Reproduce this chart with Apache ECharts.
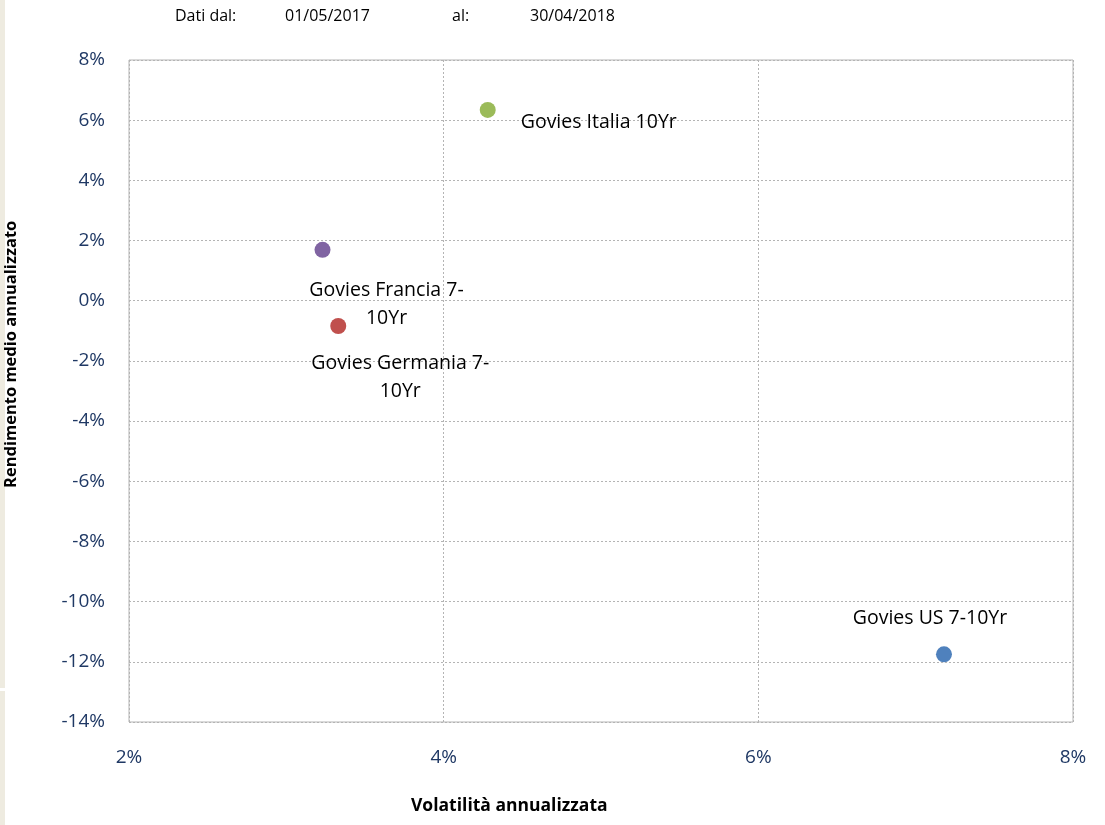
<!DOCTYPE html>
<html>
<head>
<meta charset="utf-8">
<script src="https://cdn.jsdelivr.net/npm/echarts@6/dist/echarts.min.js"></script>
<style>
  html, body { margin: 0; padding: 0; background: #fff; }
  #chart { width: 1105px; height: 825px; }
</style>
</head>
<body>
<div id="chart"></div>
<script>
// rischio / rendimento
var names = ['Govies Italia 10Yr', 'Govies Francia 7-\n10Yr', 'Govies Germania 7-\n10Yr', 'Govies US 7-10Yr'];
var volatility = [4.28, 3.23, 3.33, 7.18];   // asse x, %
var returns = [6.34, 1.69, -0.84, -11.75];   // asse y, %
var colors = ['#9BBB59', '#8064A2', '#C0504D', '#4F81BD'];
var labelPos = [
    { position: 'right', offset: [20, 12], align: 'left' },
    { position: 'bottom', offset: [64, 14], align: 'center' },
    { position: 'bottom', offset: [62, 10], align: 'center' },
    { position: 'top', offset: [-14, -9], align: 'center' }
];

var tickColor = '#1F3864';
var gridLine = { show: true, lineStyle: { color: '#b4b4b4', type: [2, 2], width: 1 } };

var chart = echarts.init(document.getElementById('chart'));
var points = [];
for (var i = 0; i < names.length; i++) {
    points.push({
        name: names[i],
        value: [volatility[i], returns[i]],
        itemStyle: { color: colors[i], opacity: 1 },
        label: {
            show: true,
            position: labelPos[i].position,
            offset: labelPos[i].offset,
            align: labelPos[i].align,
            formatter: names[i],
            color: '#000',
            fontFamily: 'Open Sans',
            fontSize: 19.5,
            lineHeight: 28
        }
    });
}

var option = {
    animation: false,
    backgroundColor: '#fff',
    grid: { left: 129, right: 32, top: 60, bottom: 103, show: true, borderColor: '#b4b4b4', borderWidth: 1 },
    xAxis: {
        type: 'value', min: 2, max: 8, interval: 2,
        axisLine: { show: false }, axisTick: { show: false },
        splitLine: gridLine,
        axisLabel: { formatter: '{value}%', color: tickColor, fontSize: 19, fontFamily: 'Open Sans', margin: 26 }
    },
    yAxis: {
        type: 'value', min: -14, max: 8, interval: 2,
        axisLine: { show: false }, axisTick: { show: false },
        splitLine: gridLine,
        axisLabel: { formatter: '{value}%', color: tickColor, fontSize: 19, fontFamily: 'Open Sans', margin: 24 }
    },
    series: [{
        type: 'scatter',
        symbolSize: 16,
        data: points
    }],
    graphic: [
        { type: 'rect', left: 0, top: 0, shape: { width: 5, height: 688 }, style: { fill: '#EEEBE0' } },
        { type: 'rect', left: 0, top: 691, shape: { width: 5, height: 134 }, style: { fill: '#EEEBE0' } },
        { type: 'text', left: 175, top: 8, style: { text: 'Dati dal:', fill: '#000', font: '16px "Open Sans"' } },
        { type: 'text', left: 285, top: 8, style: { text: '01/05/2017', fill: '#000', font: '16px "Open Sans"' } },
        { type: 'text', left: 452, top: 8, style: { text: 'al:', fill: '#000', font: '16px "Open Sans"' } },
        { type: 'text', left: 530, top: 8, style: { text: '30/04/2018', fill: '#000', font: '16px "Open Sans"' } },
        { type: 'text', x: 411, y: 797, style: { text: 'Volatilità annualizzata', fill: '#000', font: 'bold 17.5px "Open Sans"' } },
        { type: 'text', x: 3, y: 488, rotation: Math.PI / 2, style: { text: 'Rendimento medio annualizzato', fill: '#000', font: 'bold 16.5px "Open Sans"' } }
    ]
};
chart.setOption(option);
</script>
</body>
</html>
